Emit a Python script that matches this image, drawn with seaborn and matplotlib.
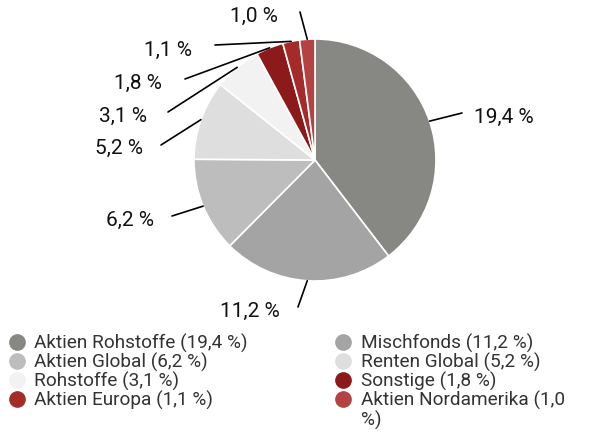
import numpy as np
import seaborn as sns
import matplotlib.pyplot as plt
from matplotlib.lines import Line2D

# data
categories = ['Aktien Rohstoffe', 'Mischfonds', 'Aktien Global', 'Renten Global',
              'Rohstoffe', 'Sonstige', 'Aktien Europa', 'Aktien Nordamerika']
shares = [19.4, 11.2, 6.2, 5.2, 3.1, 1.8, 1.1, 1.0]
value_labels = ['19,4 %', '11,2 %', '6,2 %', '5,2 %', '3,1 %', '1,8 %', '1,1 %', '1,0 %']
legend_labels = ['Aktien Rohstoffe (19,4 %)', 'Mischfonds (11,2 %)', 'Aktien Global (6,2 %)',
                 'Renten Global (5,2 %)', 'Rohstoffe (3,1 %)', 'Sonstige (1,8 %)',
                 'Aktien Europa (1,1 %)', 'Aktien Nordamerika (1,0']
legend_wrap = '%)'  # wrapped tail of the last legend entry

colors = sns.color_palette(['#878783', '#a4a4a4', '#bdbdbd', '#dedede',
                            '#f2f2f2', '#8c1a1a', '#a52a2a', '#b44242'])

sns.set_theme(style='white')
plt.rcParams['font.family'] = ['Roboto', 'DejaVu Sans']

W, H = 599, 432
fig = plt.figure(figsize=(W / 100, H / 100), dpi=100)
ax = fig.add_axes([0, 0, 1, 1])

cx, cy, r = 315, H - 160, 121
wedges, _ = ax.pie(shares, colors=colors, startangle=90, counterclock=False,
                   center=(cx, cy), radius=r, frame=True,
                   wedgeprops=dict(edgecolor='white', linewidth=1.2))
ax.set_xlim(0, W)
ax.set_ylim(0, H)
ax.set_aspect('equal')
ax.axis('off')

# label layout (pixel positions, top-left origin): text centre, line end
label_pos = [(504, 117), (250, 311), (130, 220), (119, 148),
             (123, 116), (138, 83), (168, 50), (254, 16)]
line_end = [(462, 113), (298, 307), (172, 216), (161, 145),
            (168, 112), (185, 79), (215, 45), (300, 12)]

for w, lab, (tx, ty), (ex, ey) in zip(wedges, value_labels, label_pos, line_end):
    ang = np.deg2rad((w.theta1 + w.theta2) / 2)
    sx, sy = cx + r * np.cos(ang), cy + r * np.sin(ang)
    ax.plot([sx, ex], [sy, H - ey], color='black', lw=1.2)
    ax.text(tx, H - ty, lab, ha='center', va='center', fontsize=15, color='#111111')

# legend, row-major order across two columns
order = [0, 2, 4, 6, 1, 3, 5, 7]
handles = [Line2D([], [], marker='o', linestyle='', markersize=11,
                  markerfacecolor=colors[i], markeredgecolor=colors[i]) for i in order]
leg = fig.legend(handles, [legend_labels[i] for i in order], ncol=2,
                 loc='upper left', bbox_to_anchor=(-0.004, 1 - 324 / H),
                 frameon=False, fontsize=13.7, labelspacing=0.0, handlelength=1.0,
                 handletextpad=0.4, columnspacing=4.55, borderaxespad=0.3, borderpad=0.2,
                 labelcolor='#333333')

# wrapped remainder of the last entry, placed under its first line
fig.canvas.draw()
last = leg.get_texts()[-1]
bb = last.get_window_extent()
fig.text(bb.x0, bb.y0 - 1, legend_wrap, ha='left', va='top',
         fontsize=13.7, color='#333333', transform=None)

fig.savefig('out.png', dpi=100)
